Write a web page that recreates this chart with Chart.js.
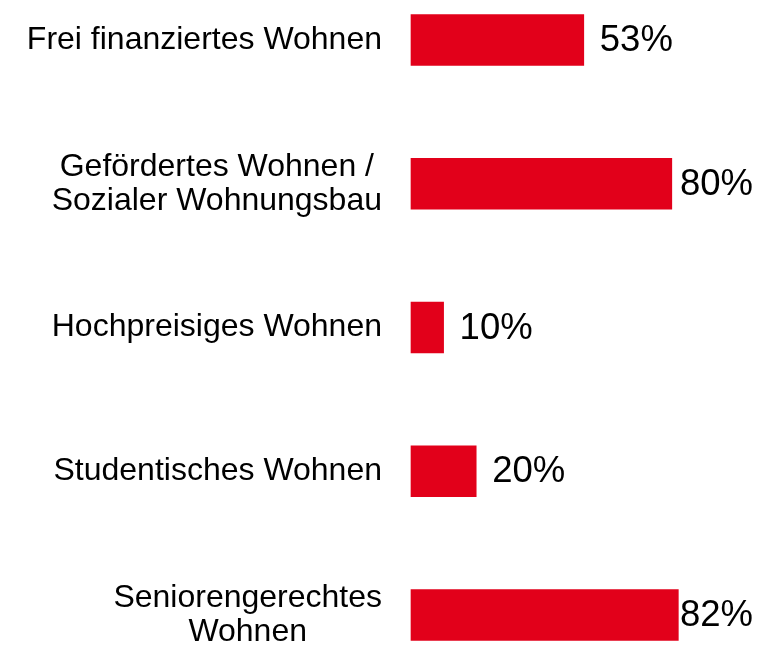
<!DOCTYPE html>
<html>
<head>
<meta charset="utf-8">
<script src="https://cdn.jsdelivr.net/npm/chart.js@4.4.1/dist/chart.umd.min.js"></script>
<style>
  html, body { margin: 0; padding: 0; background: #fff; }
  #wrap { width: 770px; height: 649px; }
</style>
</head>
<body>
<div id="wrap"><canvas id="chart" width="770" height="649"></canvas></div>
<script>
// Data
const categories = [
  ['Frei finanziertes Wohnen'],
  ['Gefördertes Wohnen /', 'Sozialer Wohnungsbau'],
  ['Hochpreisiges Wohnen'],
  ['Studentisches Wohnen'],
  ['Seniorengerechtes', 'Wohnen'],
];
const shares = [53, 80, 10, 20, 82];
const valueLabels = ['53%', '80%', '10%', '20%', '82%'];

const BAR_RED = '#E2001A';
const FONT = '"Liberation Sans", Arial, Helvetica, sans-serif';

// Draws the category names (centred block, right edge near the bars)
// and the percentage next to each bar
const labelPlugin = {
  id: 'barLabels',
  afterDatasetsDraw(chart) {
    const { ctx } = chart;
    const yScale = chart.scales.y;
    const meta = chart.getDatasetMeta(0);
    ctx.save();
    ctx.fillStyle = '#000';
    ctx.textBaseline = 'middle';

    // category labels
    ctx.font = '32px ' + FONT;
    ctx.textAlign = 'center';
    const labelRight = 382;
    const lineHeight = 34;
    categories.forEach((lines, i) => {
      const cy = yScale.getPixelForValue(i);
      const blockW = Math.max(...lines.map((l) => ctx.measureText(l).width));
      const cx = labelRight - blockW / 2;
      const startY = cy - ((lines.length - 1) * lineHeight) / 2;
      lines.forEach((l, j) => ctx.fillText(l, cx, startY + j * lineHeight));
    });

    // value labels
    ctx.font = '36.5px ' + FONT;
    ctx.textAlign = 'left';
    meta.data.forEach((bar, i) => {
      const w = ctx.measureText(valueLabels[i]).width;
      const x = Math.min(bar.x + 16, 753 - w);
      ctx.fillText(valueLabels[i], x, bar.y + 1);
    });
    ctx.restore();
  },
};

new Chart(document.getElementById('chart').getContext('2d'), {
  type: 'bar',
  data: {
    labels: categories,
    datasets: [
      {
        data: shares,
        backgroundColor: BAR_RED,
        borderWidth: 0,
        barThickness: 51,
        clip: false,
      },
    ],
  },
  options: {
    indexAxis: 'y',
    responsive: false,
    animation: false,
    layout: {
      padding: { left: 411, right: 33, top: 40, bottom: 34 },
    },
    scales: {
      x: { display: false, min: 0, max: 100 },
      y: { display: false, offset: false },
    },
    plugins: {
      legend: { display: false },
      tooltip: { enabled: false },
    },
  },
  plugins: [labelPlugin],
});
</script>
</body>
</html>
